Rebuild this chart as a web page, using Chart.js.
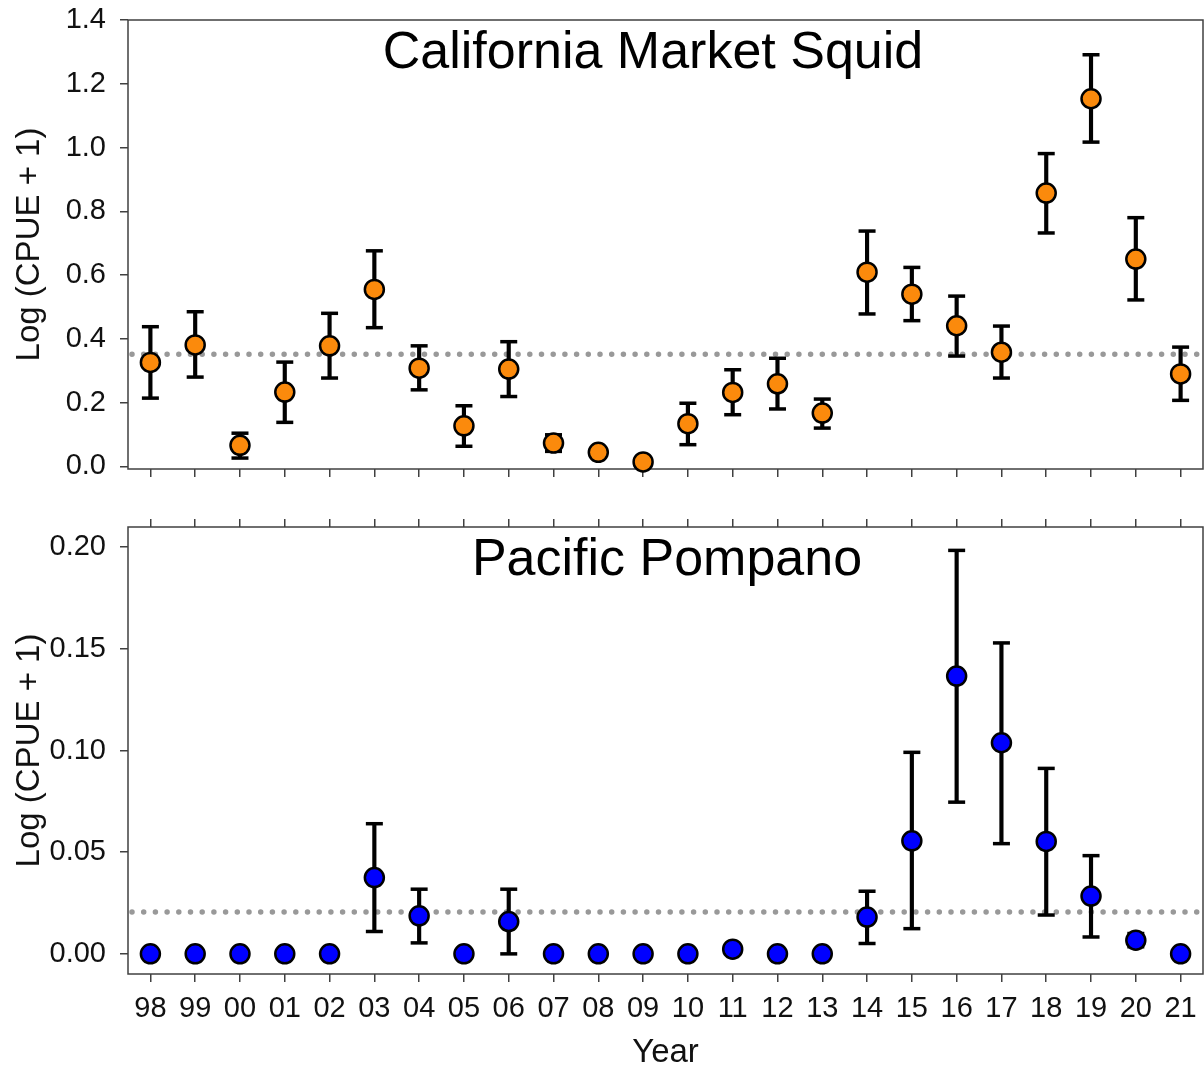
<!DOCTYPE html>
<html>
<head>
<meta charset="utf-8">
<title>Log (CPUE + 1) - California Market Squid / Pacific Pompano</title>
<script src="https://cdn.jsdelivr.net/npm/chart.js@4.4.1/dist/chart.umd.min.js"></script>
<style>
  body { margin: 0; background: #fff; }
  #wrap { position: relative; width: 1204px; height: 1075px; }
  canvas { position: absolute; left: 0; }
  #squidChart { top: 0; }
  #pompanoChart { top: 500px; }
</style>
</head>
<body>
<div id="wrap">
  <canvas id="squidChart" width="1204" height="500"></canvas>
  <canvas id="pompanoChart" width="1204" height="575"></canvas>
</div>
<script>
const years = ["98", "99", "00", "01", "02", "03", "04", "05", "06", "07", "08", "09",
               "10", "11", "12", "13", "14", "15", "16", "17", "18", "19", "20", "21"];

// California Market Squid
const squidMean = [0.326, 0.381, 0.066, 0.233, 0.378, 0.555, 0.308, 0.127, 0.305, 0.073, 0.044, 0.014,
                   0.134, 0.232, 0.259, 0.167, 0.609, 0.540, 0.441, 0.358, 0.857, 1.153, 0.650, 0.290];
const squidHi = [0.438, 0.485, 0.104, 0.327, 0.480, 0.676, 0.378, 0.190, 0.391, 0.099, null, null,
                 0.198, 0.303, 0.339, 0.211, 0.738, 0.624, 0.534, 0.440, 0.981, 1.291, 0.780, 0.374];
const squidLo = [0.214, 0.280, 0.026, 0.138, 0.277, 0.435, 0.240, 0.063, 0.219, 0.047, null, null,
                 0.068, 0.162, 0.180, 0.120, 0.478, 0.457, 0.346, 0.277, 0.732, 1.017, 0.522, 0.207];
const squidOverall = 0.352;
const squidTicks = [0, 0.2, 0.4, 0.6, 0.8, 1.0, 1.2, 1.4];

// Pacific Pompano
const pompanoMean = [0, 0, 0, 0, 0, 0.0375, 0.0187, 0, 0.0159, 0, 0, 0,
                     0, 0.0023, 0, 0, 0.0181, 0.0556, 0.1366, 0.1038, 0.0553, 0.0284, 0.0067, 0];
const pompanoHi = [null, null, null, null, null, 0.0640, 0.0318, null, 0.0318, null, null, null,
                   null, null, null, null, 0.0308, 0.0991, 0.1984, 0.1529, 0.0912, 0.0483, 0.0100, null];
const pompanoLo = [null, null, null, null, null, 0.0110, 0.0054, null, 0.0000, null, null, null,
                   null, null, null, null, 0.0051, 0.0124, 0.0746, 0.0542, 0.0191, 0.0083, 0.0035, null];
const pompanoOverall = 0.0206;
const pompanoTicks = [0, 0.05, 0.10, 0.15, 0.20];

const fontFamily = '"Liberation Sans", Arial, Helvetica, sans-serif';
const axisColor = "#404040";
Chart.defaults.font.family = fontFamily;
Chart.defaults.color = "#111";

// dotted overall-mean line, frame box and panel title
const panelDecor = {
    id: "panelDecor",
    beforeDatasetsDraw(chart, args, opts) {
        const ctx = chart.ctx;
        const a = chart.chartArea;
        const py = chart.scales.y.getPixelForValue(opts.mean);
        ctx.save();
        ctx.strokeStyle = "#999999";
        ctx.lineWidth = 5.5;
        ctx.lineCap = "round";
        ctx.setLineDash([0, 11.7]);
        ctx.beginPath();
        ctx.moveTo(a.left + 4, py);
        ctx.lineTo(a.right - 6, py);
        ctx.stroke();
        ctx.restore();

        ctx.save();
        ctx.strokeStyle = axisColor;
        ctx.lineWidth = 1.5;
        ctx.strokeRect(a.left, a.top, a.right - a.left, a.bottom - a.top);
        ctx.restore();
    },
    afterDraw(chart, args, opts) {
        const ctx = chart.ctx;
        ctx.save();
        ctx.fillStyle = "#000";
        ctx.font = "52px " + fontFamily;
        ctx.textAlign = "center";
        ctx.textBaseline = "alphabetic";
        ctx.fillText(opts.title, opts.titleX, chart.chartArea.top + 48);
        ctx.restore();
    }
};

function tickGrid() {
    return {
        display: true,
        drawOnChartArea: false,
        drawTicks: true,
        tickLength: 8,
        offset: false,
        color: axisColor,
        lineWidth: 1.5
    };
}

// fixed axis box sizes, no extra label padding
function fixSize(w, h) {
    return s => {
        if (w !== null) s.width = w;
        if (h !== null) s.height = h;
        s.paddingTop = 0;
        s.paddingBottom = 0;
        s.paddingLeft = 0;
        s.paddingRight = 0;
    };
}

function buildDatasets(mean, lo, hi, fill) {
    return [
        {
            type: "line",
            data: mean,
            showLine: false,
            pointRadius: 9.5,
            pointHoverRadius: 9.5,
            pointBorderWidth: 2.5,
            pointBackgroundColor: fill,
            pointBorderColor: "#000",
            clip: false,
            order: 0
        },
        {
            type: "line",
            data: hi,
            showLine: false,
            pointStyle: "line",
            pointRadius: 8.5,
            pointHoverRadius: 8.5,
            pointBorderWidth: 3.5,
            pointBorderColor: "#000",
            clip: false,
            order: 1
        },
        {
            type: "line",
            data: lo,
            showLine: false,
            pointStyle: "line",
            pointRadius: 8.5,
            pointHoverRadius: 8.5,
            pointBorderWidth: 3.5,
            pointBorderColor: "#000",
            clip: false,
            order: 1
        },
        {
            type: "bar",
            data: lo.map((v, i) => (v === null ? null : [v, hi[i]])),
            barThickness: 3.5,
            backgroundColor: "#000",
            borderWidth: 0,
            clip: false,
            order: 2
        }
    ];
}

function yAxis(min, max, tickList, digits) {
    return {
        min: min,
        max: max,
        afterBuildTicks: s => { s.ticks = tickList.map(v => ({ value: v })); },
        grid: tickGrid(),
        border: { display: false },
        ticks: {
            padding: 14,
            color: "#111",
            font: { size: 29 },
            callback: v => Number(v).toFixed(digits)
        },
        title: {
            display: true,
            text: "Log (CPUE + 1)",
            color: "#111",
            font: { size: 33 },
            padding: { top: 10, bottom: 0 }
        },
        afterFit: fixSize(128, null)
    };
}

new Chart(document.getElementById("squidChart"), {
    type: "line",
    data: { labels: years, datasets: buildDatasets(squidMean, squidLo, squidHi, "#fb8a0c") },
    options: {
        responsive: false,
        animation: false,
        layout: { autoPadding: false, padding: { top: 20, right: 1, left: 0, bottom: 0 } },
        plugins: {
            legend: { display: false },
            tooltip: { enabled: false },
            panelDecor: { mean: squidOverall, title: "California Market Squid", titleX: 653 }
        },
        scales: {
            x: {
                type: "category",
                offset: true,
                grid: tickGrid(),
                border: { display: false },
                ticks: { display: false },
                afterFit: fixSize(null, 31)
            },
            y: yAxis(-0.0083, 1.4, squidTicks, 1)
        }
    },
    plugins: [panelDecor]
});

new Chart(document.getElementById("pompanoChart"), {
    type: "line",
    data: { labels: years, datasets: buildDatasets(pompanoMean, pompanoLo, pompanoHi, "#0000ff") },
    options: {
        responsive: false,
        animation: false,
        layout: { autoPadding: false, padding: { top: 0, right: 1, left: 0, bottom: 0 } },
        plugins: {
            legend: { display: false },
            tooltip: { enabled: false },
            panelDecor: { mean: pompanoOverall, title: "Pacific Pompano", titleX: 667 }
        },
        scales: {
            x: {
                type: "category",
                offset: true,
                grid: tickGrid(),
                border: { display: false },
                ticks: { color: "#111", font: { size: 29 }, padding: 10, autoSkip: false, maxRotation: 0 },
                title: {
                    display: true,
                    text: "Year",
                    color: "#111",
                    font: { size: 33 },
                    padding: { top: 0, bottom: 2 }
                },
                afterFit: fixSize(null, 101)
            },
            xTop: {
                type: "category",
                position: "top",
                offset: true,
                grid: tickGrid(),
                border: { display: false },
                ticks: { display: false },
                afterFit: fixSize(null, 27)
            },
            y: yAxis(-0.0099, 0.2099, pompanoTicks, 2)
        }
    },
    plugins: [panelDecor]
});
</script>
</body>
</html>
